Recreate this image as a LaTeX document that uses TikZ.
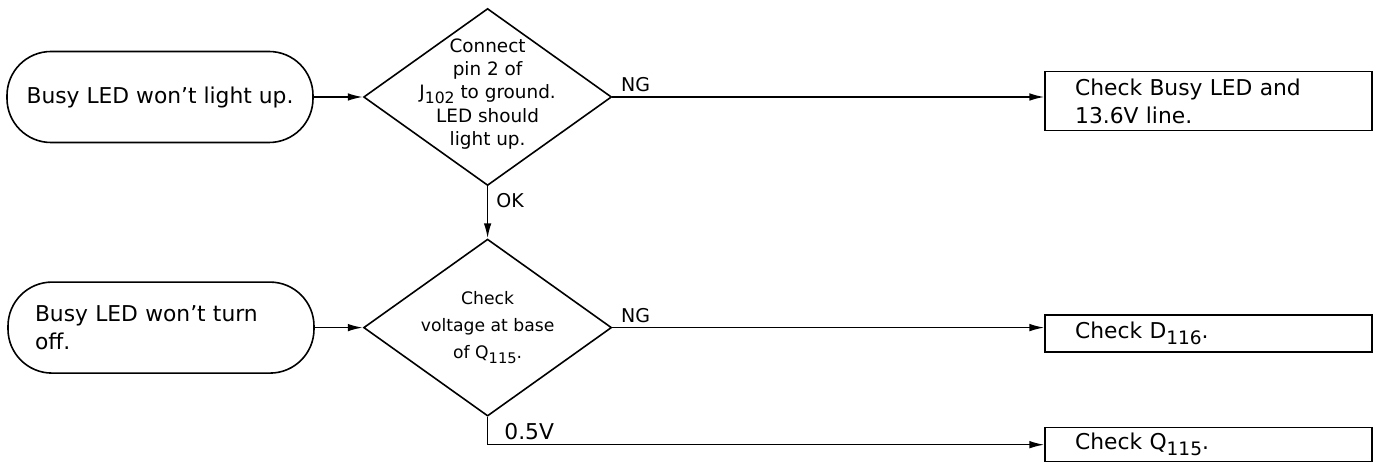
\documentclass[tikz,border=0pt]{standalone}
\usepackage{fontspec}
\setmainfont{DejaVu Sans}
\usetikzlibrary{positioning,arrows.meta,shapes.geometric}

\newcommand{\idx}[1]{\raisebox{-0.5ex}{\scalebox{0.85}{#1}}}

\begin{document}
\begin{tikzpicture}[
		>={Latex[length=7.5pt,width=3.8pt]},
		line width=0.8pt,
		every node/.style={
			font=\fontsize{10.9}{14}\selectfont
		},
		startnode/.style={
			draw, rectangle, rounded corners=22pt,
			minimum width=153pt, minimum height=45.5pt,
			inner sep=0pt
		},
		decision/.style={
			draw, diamond, inner sep=0pt,
			minimum width=124pt, minimum height=88.5pt
		},
		dtext/.style={
			font=\fontsize{9.2}{11.6}\selectfont,
			align=center, inner sep=0pt
		},
		checkbox/.style={
			draw, rectangle, inner sep=0pt,
			minimum width=163.5pt,
			text width=133.5pt, align=left
		},
		tag/.style={
			font=\fontsize{9.5}{11}\selectfont, inner sep=2pt
		}
		]
		
		\useasboundingbox (0,0) rectangle (688.5pt,-232pt);
		
		%--------------------------------------------------
		% Start conditions and checks
		%--------------------------------------------------
		
		\node (start1) [startnode] at (80pt,-48.5pt) {Busy LED won't light up.};
		\node (dia1) [decision, right=24.5pt of start1] {};
		\node (dia1text) [dtext] at ([yshift=1.5pt]dia1.center) {Connect\\pin 2 of\\J\idx{102} to ground.\\LED should\\light up.};
		
		\node (dia2) [decision, below=26pt of dia1] {};
		\node (dia2text) [dtext, font=\fontsize{8.6}{13.5}\selectfont] at (dia2.center) {Check\\voltage at base\\of Q\idx{115}.};
		\node (start2) [startnode, left=24pt of dia2, text width=126pt, align=left] {Busy LED won't turn\\off.};
		
		%--------------------------------------------------
		% Results
		%--------------------------------------------------
		
		\node (box1) [checkbox, minimum height=29.5pt, right=216pt of dia1, yshift=-2pt] {Check Busy LED and\\13.6V line.};
		\node (box2) [checkbox, minimum height=18.5pt, right=216pt of dia2, yshift=-3pt] {Check D\idx{116}.};
		\node (box3) [checkbox, minimum height=17pt, below=37pt of box2] {Check Q\idx{115}.};
		
		%--------------------------------------------------
		% Connections
		%--------------------------------------------------
		
		\draw[->] (start1) -- (dia1);
		\draw[->] (start2) -- (dia2);
		
		\draw[->] (dia1.east) -- node[tag, pos=0, above right, xshift=2pt]{NG} (dia1.east -| box1.west);
		\draw[->] (dia1) -- node[tag, pos=0.27, right, xshift=2pt]{OK} (dia2);
		\draw[->] (dia2.east) -- node[tag, pos=0, above right, xshift=2pt]{NG} (dia2.east -| box2.west);
		\draw[->] (dia2.south) |- node[tag, font=\fontsize{10.9}{13}\selectfont, pos=0.5, above right, xshift=6pt]{0.5V} (box3.west);
		
	\end{tikzpicture}
\end{document}
